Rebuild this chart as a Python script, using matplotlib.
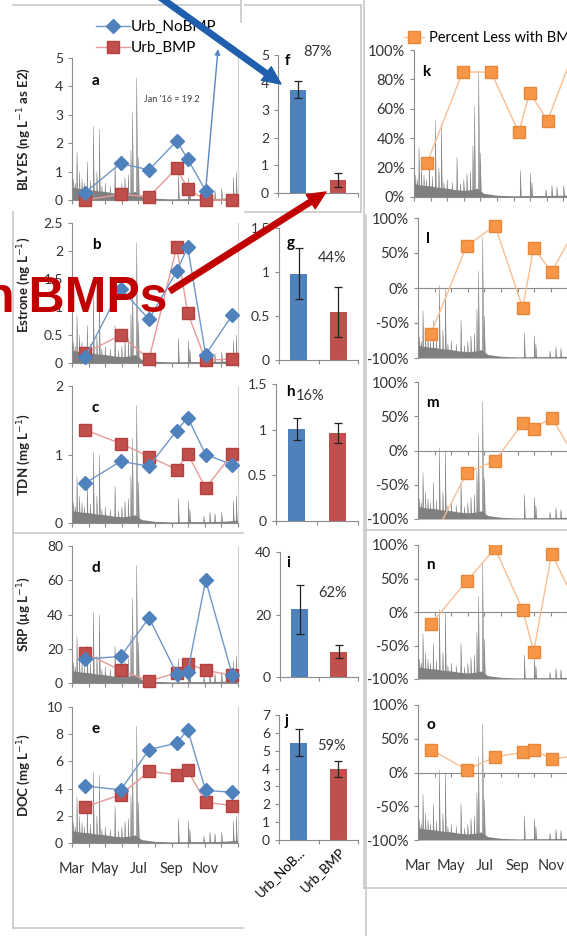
import matplotlib.pyplot as plt
from matplotlib.lines import Line2D
from matplotlib.patches import FancyArrowPatch
from matplotlib.ticker import FuncFormatter

plt.rcParams['font.family'] = ['Lato', 'DejaVu Sans']
plt.rcParams['axes.unicode_minus'] = False

W, H = 567, 939

# sampling dates as months after 1 Mar 2015
sample_month = [0.78, 2.93, 4.64, 6.31, 6.97, 8.05, 9.66]
month_labels = ['Mar', '', 'May', '', 'Jul', '', 'Sep', '', 'Nov', '', '']

# concentrations (left column)
blyes_nobmp = [0.26, 1.29, 1.06, 2.08, 1.44, 0.33]      # Jan '16 = 19.2 shown as arrow
blyes_bmp = [0.0, 0.2, 0.12, 1.12, 0.39, 0.0, 0.0]
estrone_nobmp = [0.1, 1.33, 0.78, 1.64, 2.07, 0.15, 0.86]
estrone_bmp = [0.17, 0.5, 0.07, 2.07, 0.89, 0.05, 0.07]
tdn_nobmp = [0.58, 0.9, 0.83, 1.35, 1.54, 1.0, 0.85]
tdn_bmp = [1.36, 1.16, 0.97, 0.78, 1.01, 0.51, 1.01]
srp_nobmp = [14, 15.5, 38, 5.5, 6.5, 60, 4.5]
srp_bmp = [17.6, 7.4, 1.2, 5.9, 11.3, 7.4, 4.5]
doc_nobmp = [4.2, 3.9, 6.86, 7.35, 8.33, 3.87, 3.73]
doc_bmp = [2.65, 3.55, 5.27, 5.02, 5.34, 2.99, 2.75]

# means with error bars (middle column)
bar_groups = ['Urb_NoB...', 'Urb_BMP']
blyes_mean, blyes_err = [3.75, 0.47], [0.3, 0.27]
estrone_mean, estrone_err = [0.98, 0.545], [0.29, 0.28]
tdn_mean, tdn_err = [1.01, 0.96], [0.12, 0.11]
srp_mean, srp_err = [21.7, 8.1], [7.8, 2.0]
doc_mean, doc_err = [5.45, 4.0], [0.75, 0.45]
pct_text = ['87%', '44%', '16%', '62%', '59%']

# percent less with BMP (right column)
pct_blyes = [23, 85, 85, 44, 71, 52, 100]
pct_estrone = [-65, 60, 89, -28, 57, 23, 92]
pct_tdn = [-134, -33, -15, 40, 32, 48, -18]
pct_srp = [-18, 46, 95, 3, -59, 87, 5]
pct_doc = [34, 4, 23, 30, 34, 20, 25]

# stream discharge background (fraction of panel height)
base_month = [0, 0.5, 1, 1.5, 2, 2.5, 3, 3.5, 3.8, 4.2, 5, 6, 7, 8, 9, 10]
base_frac = [0.09, 0.08, 0.075, 0.065, 0.06, 0.05, 0.045, 0.05, 0.06, 0.025, 0.012, 0.008, 0.01, 0.01, 0.012, 0.02]
spike_month = [0.1, 0.2, 0.3, 0.45, 0.6, 0.75, 0.92, 1.1, 1.29, 1.5, 1.65, 1.8, 2.0, 2.3, 2.59, 2.8, 3.0,
               3.19, 3.39, 3.55, 3.65, 3.9, 4.0, 6.41, 7.01, 7.1, 7.95, 8.31, 8.61, 9.02, 9.72, 9.9]
spike_frac = [0.15, 0.12, 0.34, 0.2, 0.15, 0.12, 0.27, 0.14, 0.52, 0.2, 0.5, 0.1, 0.12, 0.1, 0.27, 0.09,
              0.12, 0.16, 0.18, 0.35, 0.62, 0.86, 0.3, 0.18, 0.16, 0.1, 0.05, 0.08, 0.07, 0.08, 0.16, 0.2]

BLUE, RED, ORANGE = '#4F81BD', '#C0504D', '#F79646'
GRAY = '#808080'
AXC = '#8c8c8c'

fig = plt.figure(figsize=(W / 100, H / 100), dpi=100)


def px_axes(left, top, right, bottom):
    return fig.add_axes([left / W, 1 - bottom / H, (right - left) / W, (bottom - top) / H])


def style(ax, size=10):
    ax.spines['top'].set_visible(False)
    ax.spines['right'].set_visible(False)
    for s in ['left', 'bottom']:
        ax.spines[s].set_color(AXC)
        ax.spines[s].set_linewidth(0.8)
    ax.tick_params(colors=AXC, labelcolor='#333333', labelsize=size, length=3, width=0.8)
    ax.yaxis.set_major_formatter(FuncFormatter(lambda v, p: f'{v:g}'))


def hydrograph(ax, lo, hi):
    span = hi - lo
    ax.fill_between(base_month, lo, [lo + f * span for f in base_frac], color=GRAY, lw=0, zorder=1)
    for m, f in zip(spike_month, spike_frac):
        ax.fill([m - 0.015, m, m + 0.06], [lo, lo + f * span, lo], color=GRAY, lw=0.3, zorder=1)


def frame_line(x0, y0, x1, y1):
    fig.add_artist(Line2D([x0 / W, x1 / W], [1 - y0 / H, 1 - y1 / H], color='#c8c8c8', lw=1.2))


# ---- left column: concentrations ----
left = [
    ('a', 58, 200, 5, 1, 'BLYES (ng L$^{-1}$ as E2)', blyes_nobmp, blyes_bmp, 0.5),
    ('b', 223, 363, 2.5, 0.5, 'Estrone (ng L$^{-1}$)', estrone_nobmp, estrone_bmp, 0.56),
    ('c', 386, 523, 2, 1, 'TDN (mg L$^{-1}$)', tdn_nobmp, tdn_bmp, 0.5),
    ('d', 546, 683, 80, 20, 'SRP (µg L$^{-1}$)', srp_nobmp, srp_bmp, 0.5),
    ('e', 707, 843, 10, 2, 'DOC (mg L$^{-1}$)', doc_nobmp, doc_bmp, 0.5),
]
for letter, top, bottom, ymax, step, ylabel, nobmp, bmp, label_y in left:
    ax = px_axes(72, top, 238, bottom)
    style(ax)
    ax.spines['right'].set_visible(True)
    ax.spines['right'].set_color('#d0d0d0')
    hydrograph(ax, 0, ymax)
    ax.plot(sample_month[:len(nobmp)], nobmp, color='#6f96c9', lw=1, marker='D', ms=7,
            mfc=BLUE, mec=BLUE, zorder=4, clip_on=False, label='Urb_NoBMP')
    ax.plot(sample_month, bmp, color='#e89a98', lw=1, marker='s', ms=9,
            mfc=RED, mec='#b5403d', zorder=3, clip_on=False, label='Urb_BMP')
    ax.set_xlim(0, 10)
    ax.set_ylim(0, ymax)
    ax.set_yticks([i * step for i in range(int(round(ymax / step)) + 1)])
    ax.set_xticks(range(11))
    if letter == 'e':
        ax.set_xticklabels(month_labels)
        ax.tick_params(axis='x', labelsize=10.5, pad=11)
    else:
        ax.set_xticklabels([])
    ax.set_ylabel(ylabel, fontsize=9.5, fontweight='bold', color='#222222')
    ax.yaxis.set_label_coords((33 - 72) / 166, label_y)
    ax.text(0.12, 0.84, letter, transform=ax.transAxes, fontsize=11, fontweight='bold', va='center')
    if letter == 'a':
        ax.annotate('', xy=(8.81, 5.41), xytext=(sample_month[5], blyes_nobmp[5]),
                    arrowprops=dict(arrowstyle='-|>', color='#5b86c2', lw=1, mutation_scale=8),
                    annotation_clip=False, zorder=5)
        ax.text(6.0, 3.55, "Jan '16 = 19.2", fontsize=6.5, color='#404040', ha='center', va='center')
        handles, labels = ax.get_legend_handles_labels()
        fig.legend(handles, labels, loc='upper left', bbox_to_anchor=(96 / W, 1 - 20 / H),
                   frameon=False, borderpad=0, borderaxespad=0, handlelength=2.2,
                   handletextpad=0.1, labelspacing=0.45, fontsize=11)

# ---- middle column: mean bars ----
middle = [
    ('f', 278, 55, 193, 5, 1, blyes_mean, blyes_err, (0.5, 1.02), (0.09, 0.96)),
    ('g', 279, 228, 360, 1.5, 0.5, estrone_mean, estrone_err, (0.67, 0.77), (0.1, 0.89)),
    ('h', 276, 384, 521, 1.5, 0.5, tdn_mean, tdn_err, (0.42, 0.91), (0.12, 0.94)),
    ('i', 280, 552, 677, 40, 20, srp_mean, srp_err, (0.67, 0.67), (0.08, 0.91)),
    ('j', 279, 715, 840, 7, 1, doc_mean, doc_err, (0.67, 0.75), (0.07, 0.95)),
]
for k, (letter, x0, top, bottom, ymax, step, mean, err, ptxt, ltxt) in enumerate(middle):
    ax = px_axes(x0, top, 358, bottom)
    style(ax)
    ax.bar([0, 1], mean, width=0.42, color=[BLUE, RED], yerr=err, capsize=3,
           error_kw=dict(ecolor='#222222', elinewidth=0.9, capthick=0.9), zorder=2)
    ax.set_xlim(-0.5, 1.5)
    ax.set_ylim(0, ymax)
    ax.set_yticks([i * step for i in range(int(round(ymax / step)) + 1)])
    ax.set_xticks([-0.5, 0.5, 1.5])
    ax.set_xticklabels([])
    ax.set_xticks([0, 1], minor=True)
    ax.tick_params(axis='x', which='minor', length=0)
    if letter == 'j':
        ax.set_xticklabels(bar_groups, minor=True, rotation=45, ha='right',
                           rotation_mode='anchor', fontsize=9.5)
        ax.tick_params(axis='x', which='minor', pad=4)
    else:
        ax.set_xticklabels([], minor=True)
    ax.text(*ptxt, pct_text[k], transform=ax.transAxes, fontsize=10.5, color='#333333',
            ha='center', va='center')
    ax.text(*ltxt, letter, transform=ax.transAxes, fontsize=11, fontweight='bold', va='center')

# ---- right column: percent less with BMP ----
right = [
    ('k', 414, 50, 197, 0, 20, pct_blyes),
    ('l', 418, 218, 358, -100, 50, pct_estrone),
    ('m', 418, 382, 519, -100, 50, pct_tdn),
    ('n', 418, 545, 679, -100, 50, pct_srp),
    ('o', 418, 705, 840, -100, 50, pct_doc),
]
for letter, x0, top, bottom, ymin, step, pct in right:
    ax = px_axes(x0, top, x0 + 166, bottom)
    style(ax, size=10.5)
    hydrograph(ax, ymin, 100)
    ax.plot(sample_month, pct, color='#f9be92', lw=1, marker='s', ms=9, mfc=ORANGE,
            mec='#e8873a', zorder=3, label='Percent Less with BMP')
    ax.set_xlim(0, 10)
    ax.set_ylim(ymin, 100)
    ax.spines['bottom'].set_position(('data', 0))
    ax.set_yticks(range(ymin, 101, step))
    ax.yaxis.set_major_formatter(FuncFormatter(lambda v, p: f'{v:.0f}%'))
    ax.set_xticks(range(11))
    ax.set_xticklabels([])
    ax.text(0.05, 0.85, letter, transform=ax.transAxes, fontsize=11, fontweight='bold', va='center')
    if letter == 'k':
        handles, labels = ax.get_legend_handles_labels()
        fig.legend(handles, labels, loc='upper left', bbox_to_anchor=(404 / W, 1 - 31 / H),
                   frameon=False, borderpad=0, borderaxespad=0, handlelength=1.4,
                   handletextpad=0.3, fontsize=10.5)
    if letter == 'o':
        sec = ax.secondary_xaxis(0)
        sec.set_xticks(range(11))
        sec.set_xticklabels(month_labels)
        sec.tick_params(length=0, labelsize=10.5, pad=14, labelcolor='#333333')
        sec.spines['bottom'].set_visible(False)

# ---- slide frames ----
frame_line(13, 5, 241, 5)
frame_line(241, 0, 241, 22)
frame_line(13, 212, 13, 928)
frame_line(13, 533, 243, 533)
frame_line(13, 928, 243, 928)
frame_line(245, 5, 361, 5)
frame_line(361, 5, 361, 212)
frame_line(245, 212, 361, 212)
frame_line(366, 215, 366, 935)
frame_line(364, 0, 364, 888)
frame_line(364, 888, 567, 888)
frame_line(364, 530, 567, 530)

# ---- slide overlay: arrows and text ----
fig.add_artist(FancyArrowPatch((150 / W, 1 + 10 / H), (281 / W, 1 - 84 / H), transform=fig.transFigure,
                               arrowstyle='simple,head_width=1.2,head_length=1.3,tail_width=0.4',
                               mutation_scale=10, color='#1F5FAD', shrinkA=0, shrinkB=0, zorder=6))
fig.add_artist(FancyArrowPatch((170 / W, 1 - 291 / H), (326 / W, 1 - 192 / H), transform=fig.transFigure,
                               arrowstyle='simple,head_width=1.2,head_length=1.3,tail_width=0.4',
                               mutation_scale=10, color='#C00000', shrinkA=0, shrinkB=0, zorder=6))
fig.text(167 / W, 1 - 312 / H, 'n BMPs', ha='right', va='baseline', fontsize=36,
         fontweight='bold', color='#C00000', family='Liberation Sans', zorder=7)

fig.savefig('out.png', dpi=100)
